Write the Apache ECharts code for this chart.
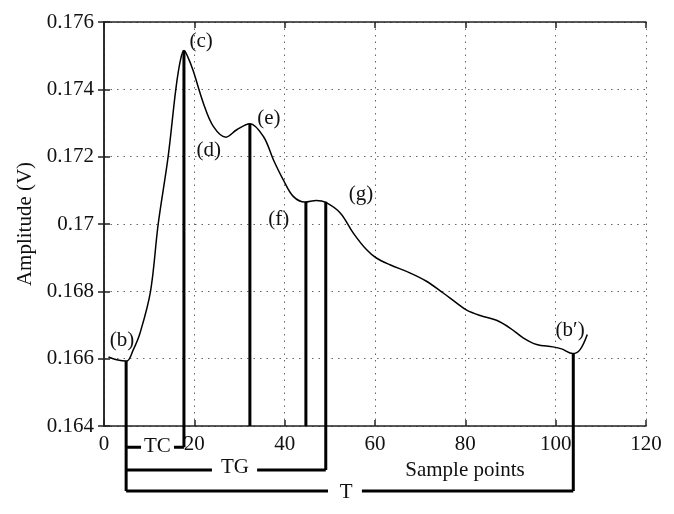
<!DOCTYPE html>
<html>
<head>
<meta charset="utf-8">
<script src="https://cdn.jsdelivr.net/npm/echarts@6/dist/echarts.min.js"></script>
<style>
html,body{margin:0;padding:0;background:#fff;}
#c{width:674px;height:514px;}
</style>
</head>
<body>
<div id="c"></div>
<script>
// Pulse waveform (sample point, amplitude V)
const sampleX = [1, 2.8, 5, 6.5, 8.0, 10.3, 12.0, 14.2, 15.9, 16.9, 17.7, 18.6, 19.75, 22.0, 24.2, 27.0, 29.4, 32.3, 35.3, 37.5, 39.7, 41.9, 44.5, 47, 49, 52.3, 55.2, 58.1, 60.3, 63.3, 67.7, 71.4, 75.1, 78.1, 80.3, 83.3, 86.9, 89.9, 92.8, 95.8, 99.4, 101.3, 103.8, 105.4, 107.0];
const amplitude = [0.16605, 0.16597, 0.16593, 0.16627, 0.16677, 0.1680, 0.1700, 0.1720, 0.1740, 0.17485, 0.17515, 0.17495, 0.17455, 0.17359, 0.17290, 0.17258, 0.17280, 0.17298, 0.17260, 0.17191, 0.17131, 0.17082, 0.17065, 0.17070, 0.17065, 0.17033, 0.16973, 0.16924, 0.16899, 0.16879, 0.16855, 0.16830, 0.16795, 0.16765, 0.16744, 0.16728, 0.16714, 0.16691, 0.16662, 0.16642, 0.16635, 0.16629, 0.16615, 0.16627, 0.16672];

// Feature markers: x position, top (curve) value, bottom value
const markerNames = ['b', 'c', 'e', 'f', 'g', "b'"];
const markerX = [4.9, 17.7, 32.3, 44.7, 49.1, 103.9];
const markerTop = [0.16593, 0.17515, 0.17298, 0.17065, 0.17066, 0.16615];
const markerBottom = [0.16207, 0.16337, 0.164, 0.164, 0.16269, 0.16207];

// Interval brackets below the axis
const bracketNames = ['TC', 'TG', 'T'];
const bracketLevel = [0.16337, 0.16269, 0.16207];
const bracketStart = [4.9, 4.9, 4.9];
const bracketEnd = [17.7, 49.1, 103.9];
const bracketGapFrom = [8.2, 23.9, 49.6];
const bracketGapTo = [15.5, 33.9, 57.1];
const bracketTextX = [11.8, 29.0, 53.6];
const bracketTextY = [0.163392, 0.162769, 0.162027];

// Point labels
const pointLabels = ['(b)', '(c)', '(d)', '(e)', '(f)', '(g)', '(b\u2032)'];
const pointLabelX = [4.0, 21.5, 23.2, 36.5, 38.7, 56.9, 103.2];
const pointLabelY = [0.166537, 0.175408, 0.172174, 0.173124, 0.170127, 0.170869, 0.166833];

// Axis ticks
const xMin = 0, xMax = 120, xStep = 20;
const yMin = 0.164, yMax = 0.176, yStep = 0.002;

const FONT = 'Liberation Serif';
const FS = 21;
const chart = echarts.init(document.getElementById('c'), null, {renderer: 'canvas'});

const curve = sampleX.map((x, i) => [x, amplitude[i]]);

const markerData = [];
markerX.forEach((x, i) => {
  markerData.push([x, markerTop[i]], [x, markerBottom[i]], ['-', '-']);
});
const bracketData = [];
bracketLevel.forEach((y, i) => {
  bracketData.push([bracketStart[i], y], [bracketGapFrom[i], y], ['-', '-']);
  bracketData.push([bracketGapTo[i], y], [bracketEnd[i], y], ['-', '-']);
});

const textStyleBase = {fontFamily: FONT, fontSize: FS, color: '#111'};

const axisCommon = {
  axisLine: {lineStyle: {color: '#222', width: 1.5}},
  axisTick: {inside: true, length: 6, lineStyle: {color: '#222', width: 1.5}},
};

chart.setOption({
  animation: false,
  backgroundColor: '#fff',
  grid: {left: 104, right: 28, top: 22, bottom: 88, containLabel: false},
  xAxis: [{
    type: 'value', min: xMin, max: xMax, interval: xStep, position: 'bottom',
    ...axisCommon,
    axisLabel: {margin: 8, fontFamily: FONT, fontSize: FS, color: '#111'},
    splitLine: {show: true, lineStyle: {type: [1.5, 5], color: '#666', width: 1}},
    name: 'Sample points', nameLocation: 'middle', nameGap: 31,
    nameTextStyle: {fontFamily: FONT, fontSize: FS, color: '#111', padding: [0, 0, 0, 180]}
  }, {
    type: 'value', min: xMin, max: xMax, interval: xStep, position: 'top',
    ...axisCommon,
    axisLabel: {show: false}, splitLine: {show: false}
  }],
  yAxis: [{
    type: 'value', min: yMin, max: yMax, interval: yStep, position: 'left',
    ...axisCommon,
    axisLabel: {margin: 10, fontFamily: FONT, fontSize: FS, color: '#111',
      formatter: v => String(+v.toFixed(3))},
    splitLine: {show: true, lineStyle: {type: [1.5, 5], color: '#666', width: 1}},
    name: 'Amplitude (V)', nameLocation: 'middle', nameGap: 68,
    nameTextStyle: {fontFamily: FONT, fontSize: FS, color: '#111'}
  }, {
    type: 'value', min: yMin, max: yMax, interval: yStep, position: 'right',
    ...axisCommon,
    axisLabel: {show: false}, splitLine: {show: false}
  }],
  series: [{
    type: 'line', data: curve, smooth: 0.35, symbol: 'none',
    lineStyle: {color: '#000', width: 1.5}, z: 3
  }, {
    type: 'line', data: markerData, symbol: 'none', clip: false, connectNulls: false,
    lineStyle: {color: '#000', width: 3}, z: 4
  }, {
    type: 'line', data: bracketData, symbol: 'none', clip: false, connectNulls: false,
    lineStyle: {color: '#000', width: 3}, z: 4
  }, {
    type: 'scatter', clip: false, symbolSize: 0, z: 5,
    itemStyle: {opacity: 1},
    data: pointLabels.map((t, i) => ({value: [pointLabelX[i], pointLabelY[i]], name: t})),
    label: {show: true, position: 'inside', formatter: p => p.name, ...textStyleBase}
  }, {
    type: 'scatter', clip: false, symbolSize: 0, z: 5,
    itemStyle: {opacity: 1},
    data: bracketNames.map((t, i) => ({value: [bracketTextX[i], bracketTextY[i]], name: t})),
    label: {show: true, position: 'inside', formatter: p => p.name, ...textStyleBase}
  }]
});
</script>
</body>
</html>
